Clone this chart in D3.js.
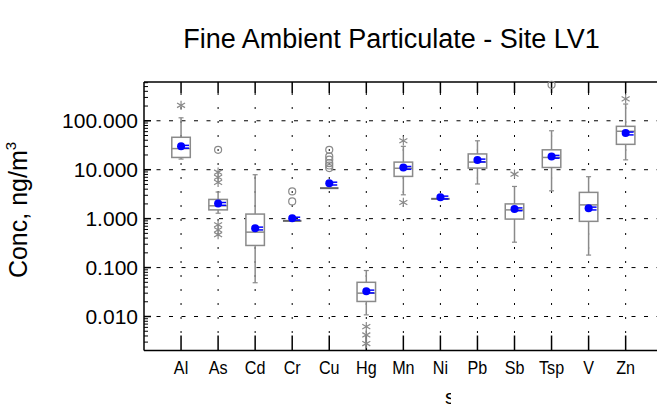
<!DOCTYPE html>
<html>
<head>
<meta charset="utf-8">
<script src="https://cdn.jsdelivr.net/npm/d3@7"></script>
<style>
  body { margin: 0; background: #fff; }
  svg { display: block; font-family: Arial, "Liberation Sans", sans-serif; }
</style>
</head>
<body>
<svg id="chart" width="657" height="404"></svg>
<script>
// box plot stats
const categories = ["Al", "As", "Cd", "Cr", "Cu", "Hg", "Mn", "Ni", "Pb", "Sb", "Tsp", "V", "Zn"];
const whiskerLow  = [16.5, 1.29, 0.049, 0.9, 4.2, 0.0108, 3.07, 2.54, 5.1, 0.33, 3.7, 0.18, 15.9];
const q1          = [17.8, 1.51, 0.283, 0.9, 4.2, 0.0203, 7.3, 2.54, 10.8, 0.98, 11.1, 0.88, 33];
const median      = [27, 1.83, 0.53, 0.9, 4.2, 0.030, 10.7, 2.54, 14.3, 1.51, 17.8, 1.91, 61];
const q3          = [46, 2.47, 1.24, 0.9, 4.2, 0.05, 14.3, 2.54, 21, 2.0, 25.5, 3.44, 77];
const whiskerHigh = [115, 3.5, 7.9, 0.9, 4.2, 0.087, 30, 2.54, 39, 4.55, 62.5, 7.2, 220];
const means       = [30, 2.04, 0.64, 1.02, 5.3, 0.033, 11.1, 2.75, 15.7, 1.58, 18.7, 1.64, 56];

// outside values (circles) and far outside values (asterisks)
const outsideCats = ["As", "Cr", "Cr", "Cu", "Cu", "Cu", "Cu", "Cu", "Cu", "Tsp"];
const outsideVals = [25.5, 3.6, 2.25, 25.5, 18.7, 16, 13.6, 12.2, 10.8, 545];
const farCats = ["Al", "As", "As", "As", "As", "As", "As", "Hg", "Hg", "Hg", "Mn", "Mn", "Sb", "Zn"];
const farVals = [207, 8.9, 7.0, 5.5, 0.75, 0.59, 0.47, 0.0062, 0.0042, 0.0028, 39, 2.14, 8.1, 280];

const yTicks = [0.01, 0.1, 1, 10, 100];

const svg = d3.select("#chart");
const pLeft = 144, pTop = 82, pBottom = 350.5, pRight = 657;

const x = d3.scaleLinear().domain([0, 14]).range([pLeft, 662.7]);
const y = d3.scaleLog().domain([0.00202, 620]).range([pBottom, pTop]);
const xc = d => x(categories.indexOf(d) + 1);

const gray = "#8a8a8a";

// grid
svg.append("g").selectAll("line")
  .data(categories)
  .join("line")
  .attr("x1", d => xc(d)).attr("x2", d => xc(d))
  .attr("y1", 93).attr("y2", 335)
  .attr("stroke", "#000").attr("stroke-width", 1)
  .attr("stroke-dasharray", "2,12");

svg.append("g").selectAll("line")
  .data(yTicks)
  .join("line")
  .attr("x1", pLeft).attr("x2", pRight)
  .attr("y1", d => y(d)).attr("y2", d => y(d))
  .attr("stroke", "#000").attr("stroke-width", 1)
  .attr("stroke-dasharray", "4,8.5");

// frame
svg.append("line").attr("x1", pLeft).attr("x2", pRight).attr("y1", pTop).attr("y2", pTop)
  .attr("stroke", "#000").attr("stroke-width", 1.5);
svg.append("line").attr("x1", pLeft).attr("x2", pRight).attr("y1", pBottom).attr("y2", pBottom)
  .attr("stroke", "#000").attr("stroke-width", 1.5);
svg.append("line").attr("x1", pLeft).attr("x2", pLeft).attr("y1", pTop).attr("y2", pBottom)
  .attr("stroke", "#000").attr("stroke-width", 1.5);

// category ticks, top and bottom
svg.append("g").selectAll("line").data(categories).join("line")
  .attr("x1", d => xc(d)).attr("x2", d => xc(d))
  .attr("y1", pTop).attr("y2", pTop + 11)
  .attr("stroke", "#000").attr("stroke-width", 1.5);
svg.append("g").selectAll("line").data(categories).join("line")
  .attr("x1", d => xc(d)).attr("x2", d => xc(d))
  .attr("y1", pBottom - 15).attr("y2", pBottom)
  .attr("stroke", "#000").attr("stroke-width", 1.5);

// log ticks on the left axis
const minor = [];
for (let e = -3; e <= 2; e++) {
  for (let k = 2; k <= 9; k++) {
    const v = k * Math.pow(10, e);
    if (v >= y.domain()[0] && v <= y.domain()[1]) minor.push(v);
  }
}
svg.append("g").selectAll("line").data(minor).join("line")
  .attr("x1", pLeft).attr("x2", pLeft + 4)
  .attr("y1", d => y(d)).attr("y2", d => y(d))
  .attr("stroke", "#000").attr("stroke-width", 1);
svg.append("g").selectAll("line").data(yTicks).join("line")
  .attr("x1", pLeft).attr("x2", pLeft + 7)
  .attr("y1", d => y(d)).attr("y2", d => y(d))
  .attr("stroke", "#000").attr("stroke-width", 1.5);

svg.append("g").selectAll("text").data(yTicks).join("text")
  .attr("x", 138).attr("y", d => y(d))
  .attr("dy", "0.36em")
  .attr("text-anchor", "end")
  .attr("font-size", 21)
  .text(d => d3.format(".3f")(d));

// category labels
svg.append("g").selectAll("text").data(categories).join("text")
  .attr("transform", d => `translate(${xc(d)},374) scale(0.95,1.12)`)
  .attr("text-anchor", "middle")
  .attr("font-size", 17)
  .text(d => d);

// titles
svg.append("text")
  .attr("x", 391.5).attr("y", 48)
  .attr("text-anchor", "middle")
  .attr("font-size", 27)
  .text("Fine Ambient Particulate - Site LV1");

const yt = svg.append("text")
  .attr("transform", "translate(27,210) rotate(-90)")
  .attr("text-anchor", "middle")
  .attr("font-size", 25);
yt.append("tspan").text("Conc, ng/m");
yt.append("tspan").attr("font-size", 15).attr("dy", -11).text("3");

// clipped x title remnant
svg.append("clipPath").attr("id", "xt")
  .append("rect").attr("x", 444).attr("y", 387).attr("width", 7).attr("height", 17);
svg.append("text")
  .attr("clip-path", "url(#xt)")
  .attr("x", 450).attr("y", 404)
  .attr("text-anchor", "middle")
  .attr("font-size", 20)
  .text("s");

// boxes
const bw = 9.25;
const boxes = svg.append("g");
categories.forEach((c, i) => {
  const cx = xc(c);
  const g = boxes.append("g");
  // whiskers
  if (whiskerHigh[i] > q3[i]) {
    g.append("line").attr("x1", cx).attr("x2", cx).attr("y1", y(q3[i])).attr("y2", y(whiskerHigh[i]))
      .attr("stroke", gray).attr("stroke-width", 1.5);
    g.append("line").attr("x1", cx - 2.5).attr("x2", cx + 2.5).attr("y1", y(whiskerHigh[i])).attr("y2", y(whiskerHigh[i]))
      .attr("stroke", gray).attr("stroke-width", 1.2);
  }
  if (whiskerLow[i] < q1[i]) {
    g.append("line").attr("x1", cx).attr("x2", cx).attr("y1", y(q1[i])).attr("y2", y(whiskerLow[i]))
      .attr("stroke", gray).attr("stroke-width", 1.5);
    g.append("line").attr("x1", cx - 2.5).attr("x2", cx + 2.5).attr("y1", y(whiskerLow[i])).attr("y2", y(whiskerLow[i]))
      .attr("stroke", gray).attr("stroke-width", 1.2);
  }
  if (q3[i] > q1[i]) {
    g.append("rect")
      .attr("x", cx - bw).attr("width", bw * 2)
      .attr("y", y(q3[i])).attr("height", y(q1[i]) - y(q3[i]))
      .attr("fill", "#fff").attr("stroke", gray).attr("stroke-width", 1.5);
  }
  g.append("line").attr("x1", cx - bw).attr("x2", cx + bw)
    .attr("y1", y(median[i])).attr("y2", y(median[i]))
    .attr("stroke", q3[i] > q1[i] ? gray : "#666").attr("stroke-width", q3[i] > q1[i] ? 1.5 : 2);
});

// outside points
svg.append("g").selectAll("circle")
  .data(outsideVals.map((v, i) => ({ c: outsideCats[i], v })))
  .join("circle")
  .attr("cx", d => xc(d.c)).attr("cy", d => y(d.v))
  .attr("r", 3.5)
  .attr("fill", "none").attr("stroke", gray).attr("stroke-width", 1.2);

const star = d3.symbol().type(d3.symbolAsterisk).size(60);
svg.append("g").selectAll("path")
  .data(farVals.map((v, i) => ({ c: farCats[i], v })))
  .join("path")
  .attr("transform", d => `translate(${xc(d.c)},${y(d.v)})`)
  .attr("d", star)
  .attr("fill", "none").attr("stroke", gray).attr("stroke-width", 1.2);

// means
const mg = svg.append("g").selectAll("g")
  .data(means.map((v, i) => ({ c: categories[i], v })))
  .join("g")
  .attr("transform", d => `translate(${xc(d.c)},${y(d.v)})`);
mg.append("line").attr("x1", 0).attr("x2", 8).attr("y1", -1).attr("y2", -1)
  .attr("stroke", "#0000ff").attr("stroke-width", 1.5);
mg.append("line").attr("x1", 0).attr("x2", 8).attr("y1", 1.8).attr("y2", 1.8)
  .attr("stroke", "#0000ff").attr("stroke-width", 1.5);
mg.append("circle").attr("r", 4).attr("fill", "#0000ff");
</script>
</body>
</html>
